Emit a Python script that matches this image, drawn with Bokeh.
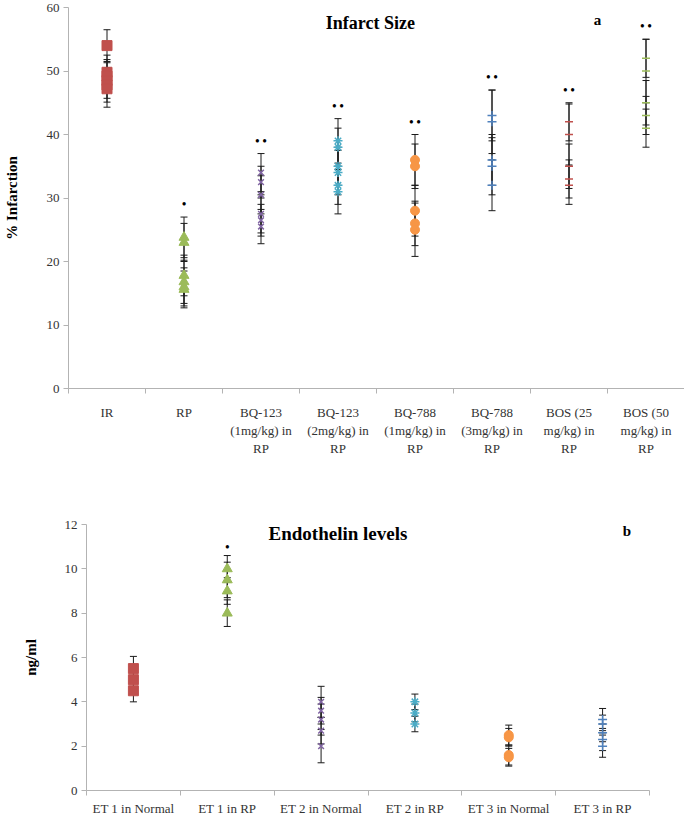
from bokeh.plotting import figure
from bokeh.models import ColumnDataSource, Whisker, TeeHead, FixedTicker, Label, Range1d
from bokeh.embed import file_html
from bokeh.resources import INLINE
from bokeh.core.properties import value

# ---------------- Panel a : Infarct size ----------------
a_labels = ["IR", "RP", "BQ-123\n(1mg/kg) in\nRP", "BQ-123\n(2mg/kg) in\nRP",
            "BQ-788\n(1mg/kg) in\nRP", "BQ-788\n(3mg/kg) in\nRP",
            "BOS (25\nmg/kg) in\nRP", "BOS (50\nmg/kg) in\nRP"]
a_values = [
    [54.0, 49.8, 49.2, 48.5, 47.8, 47.2],
    [23.8, 23.0, 17.8, 16.8, 16.0, 15.6],
    [34.0, 32.5, 30.5, 27.5, 26.5, 25.5],
    [39.0, 38.0, 35.0, 34.0, 32.0, 31.0],
    [36.0, 35.0, 28.0, 26.0, 25.0],
    [43.0, 42.0, 36.0, 35.0, 32.0],
    [42.0, 40.0, 35.0, 33.0, 32.0],
    [52.0, 50.0, 45.0, 43.0, 41.0],
]
a_errors = [
    [2.5, 2.7, 2.6, 2.8, 2.7, 2.9],
    [3.2, 3.0, 3.2, 3.4, 3.0, 2.9],
    [3.0, 2.5, 3.0, 3.0, 2.5, 2.7],
    [3.5, 3.0, 3.0, 3.5, 3.0, 3.5],
    [4.0, 3.5, 4.0, 3.5, 4.2],
    [4.0, 5.0, 4.0, 4.5, 4.0],
    [3.0, 4.8, 3.5, 3.0, 3.0],
    [3.0, 5.0, 3.5, 3.0, 3.0],
]
a_sig = [0, 1, 2, 2, 2, 2, 2, 2]
a_yticks = [0, 10, 20, 30, 40, 50, 60]

# ---------------- Panel b : Endothelin levels ----------------
b_labels = ["ET 1 in Normal", "ET 1 in RP", "ET 2 in Normal", "ET 2 in RP",
            "ET 3 in Normal", "ET 3 in RP"]
b_values = [
    [5.5, 5.0, 4.5],
    [10.0, 9.5, 9.0, 8.0],
    [4.0, 3.6, 3.2, 2.7, 2.0],
    [4.0, 3.5, 3.0],
    [2.5, 2.4, 1.6, 1.5],
    [3.2, 3.0, 2.6, 2.3, 2.0],
]
b_errors = [
    [0.55, 0.5, 0.5],
    [0.6, 0.8, 0.6, 0.6],
    [0.7, 0.6, 0.7, 0.6, 0.75],
    [0.35, 0.4, 0.35],
    [0.45, 0.4, 0.45, 0.4],
    [0.5, 0.4, 0.4, 0.5, 0.5],
]
b_sig = [0, 1, 0, 0, 0, 0]
b_yticks = [0, 2, 4, 6, 8, 10, 12]

markers = ["square", "triangle", "x", "asterisk", "circle", "cross", "dash", "dash"]
colors = ["#c0504d", "#9bbb59", "#8064a2", "#4bacc6", "#f79646", "#4f81bd", "#c0504d", "#9bbb59"]
sizes = [10, 10, 8, 9, 9, 9, 8, 8]

SERIF = "Liberation Serif"
AXIS_GRAY = "#b3b3b3"


def build(labels, values, errors, sig, yticks, width, height, borders, ylabel,
          ylabel_standoff, sig_offset, label_standoff):
    n = len(labels)
    p = figure(width=width, height=height, output_backend="svg", toolbar_location=None,
               x_range=Range1d(0, n), y_range=Range1d(yticks[0], yticks[-1]),
               min_border_left=borders[0], min_border_right=borders[1],
               min_border_top=borders[2], min_border_bottom=borders[3])
    p.outline_line_color = None
    p.xgrid.grid_line_color = None
    p.ygrid.grid_line_color = None
    p.background_fill_color = "white"
    p.border_fill_color = "white"

    centers = [i + 0.5 for i in range(n)]
    # x axis: labels at centres, ticks at category boundaries
    p.xaxis.ticker = FixedTicker(ticks=centers, minor_ticks=list(range(n + 1)))
    p.xaxis.major_label_overrides = {c: lab for c, lab in zip(centers, labels)}
    p.xaxis.major_tick_line_color = None
    p.xaxis.minor_tick_line_color = AXIS_GRAY
    p.xaxis.minor_tick_out = 5
    p.xaxis.minor_tick_in = 0
    p.xaxis.axis_line_color = AXIS_GRAY
    p.xaxis.major_label_standoff = label_standoff
    p.xaxis.major_label_orientation = "horizontal"

    p.yaxis.ticker = FixedTicker(ticks=yticks, minor_ticks=[])
    p.yaxis.axis_line_color = AXIS_GRAY
    p.yaxis.major_tick_line_color = AXIS_GRAY
    p.yaxis.major_tick_out = 5
    p.yaxis.major_tick_in = 0
    p.yaxis.minor_tick_line_color = None
    p.yaxis.major_label_standoff = 4
    p.yaxis.axis_label = ylabel
    p.yaxis.axis_label_standoff = ylabel_standoff
    p.yaxis.axis_label_text_font = SERIF
    p.yaxis.axis_label_text_font_style = "bold"
    p.yaxis.axis_label_text_font_size = "15px"
    p.yaxis.axis_label_text_color = "black"

    for ax in (p.xaxis, p.yaxis):
        ax.major_label_text_font = SERIF
        ax.major_label_text_font_size = "13px"
        ax.major_label_text_color = "#333333"

    sig_x, sig_y, sig_t = [], [], []
    for i in range(n):
        vals = values[i]
        errs = errors[i]
        xs = [centers[i]] * len(vals)
        src = ColumnDataSource(dict(x=xs, y=vals,
                                    upper=[v + e for v, e in zip(vals, errs)],
                                    lower=[v - e for v, e in zip(vals, errs)]))
        w = Whisker(base="x", upper="upper", lower="lower", source=src,
                    dimension="height", line_color="#1a1a1a", line_width=1,
                    upper_head=TeeHead(size=7, line_color="#1a1a1a", line_width=1),
                    lower_head=TeeHead(size=7, line_color="#1a1a1a", line_width=1),
                    level="underlay")
        p.add_layout(w)
        m = markers[i]
        if m in ("x", "asterisk", "cross", "dash"):
            p.scatter("x", "y", source=src, marker=m, size=sizes[i],
                      line_color=colors[i], line_width=1.5, fill_color=colors[i])
        else:
            p.scatter("x", "y", source=src, marker=m, size=sizes[i],
                      line_color=colors[i], fill_color=colors[i])
        if sig[i]:
            sig_x.append(centers[i])
            sig_y.append(max(v + e for v, e in zip(vals, errs)))
            sig_t.append(" ".join(["\u2022"] * sig[i]))
    ssrc = ColumnDataSource(dict(x=sig_x, y=sig_y, t=sig_t))
    p.text("x", "y", text="t", source=ssrc, text_font=value(SERIF),
           text_font_style="bold", text_font_size="12px", text_color="black",
           text_align="center", text_baseline="middle", y_offset=-sig_offset)
    return p


p1 = build(a_labels, a_values, a_errors, a_sig, a_yticks, width=684, height=484,
           borders=(68, 0, 7, 96), ylabel="% Infarction", ylabel_standoff=24,
           sig_offset=13, label_standoff=10)
p1.add_layout(Label(x=3.95, y=57.5, text="Infarct  Size", text_font=SERIF,
                    text_font_style="bold", text_font_size="18px", text_align="center",
                    text_baseline="middle", text_color="black"))
p1.add_layout(Label(x=6.87, y=58.0, text="a", text_font=SERIF,
                    text_font_style="bold", text_font_size="15px", text_align="center",
                    text_baseline="middle", text_color="black"))

p2 = build(b_labels, b_values, b_errors, b_sig, b_yticks, width=684, height=335,
           borders=(86, 35, 40, 29), ylabel="ng/ml", ylabel_standoff=23,
           sig_offset=9, label_standoff=4)
p2.add_layout(Label(x=2.68, y=11.58, text="Endothelin levels", text_font=SERIF,
                    text_font_style="bold", text_font_size="19px", text_align="center",
                    text_baseline="middle", text_color="black"))
p2.add_layout(Label(x=5.76, y=11.7, text="b", text_font=SERIF,
                    text_font_style="bold", text_font_size="15px", text_align="center",
                    text_baseline="middle", text_color="black"))

open("out.html", "w").write(file_html([p1, p2], INLINE))
